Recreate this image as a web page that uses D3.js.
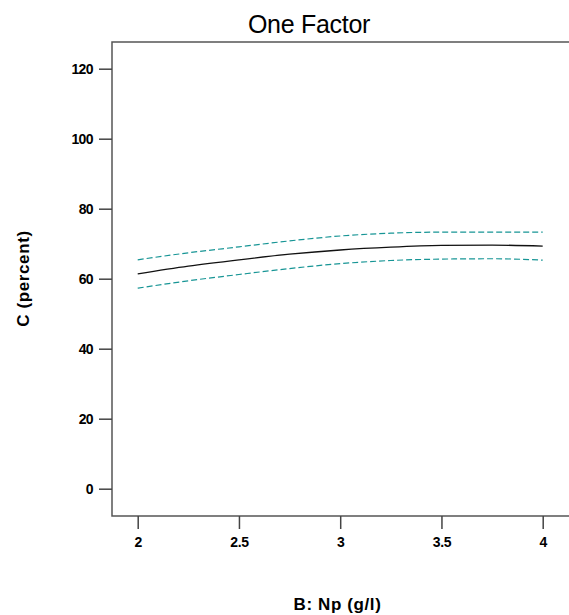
<!DOCTYPE html>
<meta charset="utf-8">
<head>
  <meta charset="utf-8">
  <script src="https://d3js.org/d3.v7.min.js"></script>
  <style>
    body { margin: 0; background: #fff; }
    svg { display: block; font-family: "Liberation Sans", Arial, sans-serif; }
  </style>
</head>
<body>
  <svg width="569" height="615"></svg>
  <script>
    // values
    var npValues = [2, 2.25, 2.5, 2.75, 3, 3.25, 3.5, 3.75, 4];
    var predicted = [61.4, 63.6, 65.4, 67.0, 68.2, 69.0, 69.5, 69.6, 69.3];
    var upperBand = [65.4, 67.4, 69.1, 70.8, 72.2, 73.0, 73.3, 73.3, 73.3];
    var lowerBand = [57.3, 59.4, 61.2, 62.9, 64.3, 65.2, 65.6, 65.7, 65.3];
    var xTicks = [2, 2.5, 3, 3.5, 4];
    var yTicks = [0, 20, 40, 60, 80, 100, 120];

    var svg = d3.select("svg");
    var frame = {left: 112, top: 42, bottom: 516, right: 580};

    var x = d3.scaleLinear().domain([2, 4]).range([137.7, 542.7]);
    var y = d3.scaleLinear().domain([0, 120]).range([488.7, 68.7]);

    // plot frame (right side runs off the page)
    svg.append("rect")
      .attr("x", frame.left).attr("y", frame.top)
      .attr("width", frame.right - frame.left)
      .attr("height", frame.bottom - frame.top)
      .attr("fill", "none")
      .attr("stroke", "#555")
      .attr("stroke-width", 1.5);

    // y axis ticks + labels
    var yAxis = svg.append("g")
      .attr("transform", "translate(" + frame.left + ",0)")
      .call(d3.axisLeft(y).tickValues(yTicks).tickSize(13).tickPadding(6).tickFormat(d3.format("d")));
    yAxis.select(".domain").remove();
    yAxis.selectAll("line").attr("stroke", "#444").attr("stroke-width", 1.5);
    yAxis.selectAll("text")
      .attr("font-size", 14).attr("font-weight", "bold")
      .attr("letter-spacing", -0.6)
      .attr("font-family", "'Liberation Sans', Arial, sans-serif")
      .attr("fill", "#000");

    // x axis ticks + labels
    var xAxis = svg.append("g")
      .attr("transform", "translate(0," + frame.bottom + ")")
      .call(d3.axisBottom(x).tickValues(xTicks).tickSize(13).tickPadding(8).tickFormat(d3.format("")));
    xAxis.select(".domain").remove();
    xAxis.selectAll("line").attr("stroke", "#444").attr("stroke-width", 1.5);
    xAxis.selectAll("text")
      .attr("font-size", 14).attr("font-weight", "bold")
      .attr("letter-spacing", -0.4)
      .attr("font-family", "'Liberation Sans', Arial, sans-serif")
      .attr("fill", "#000");

    // curves
    function series(vals) {
      return npValues.map(function(v, i) { return [v, vals[i]]; });
    }
    var line = d3.line()
      .x(function(d) { return x(d[0]); })
      .y(function(d) { return y(d[1]); })
      .curve(d3.curveMonotoneX);

    [upperBand, lowerBand].forEach(function(b) {
      svg.append("path")
        .datum(series(b))
        .attr("d", line)
        .attr("fill", "none")
        .attr("stroke", "#179595")
        .attr("stroke-width", 1.2)
        .attr("stroke-dasharray", "6,3");
    });
    svg.append("path")
      .datum(series(predicted))
      .attr("d", line)
      .attr("fill", "none")
      .attr("stroke", "#111")
      .attr("stroke-width", 1.3);

    // titles
    svg.append("text")
      .attr("x", 309).attr("y", 33)
      .attr("text-anchor", "middle")
      .attr("font-size", 25)
      .attr("letter-spacing", -0.3)
      .text("One Factor");

    svg.append("text")
      .attr("x", 337.5).attr("y", 610)
      .attr("text-anchor", "middle")
      .attr("font-size", 17).attr("font-weight", "bold")
      .attr("letter-spacing", 0.6)
      .text("B: Np (g/l)");

    svg.append("text")
      .attr("transform", "translate(29,278.5) rotate(-90)")
      .attr("text-anchor", "middle")
      .attr("font-size", 17).attr("font-weight", "bold")
      .attr("letter-spacing", 0.6)
      .text("C (percent)");
  </script>
</body>
